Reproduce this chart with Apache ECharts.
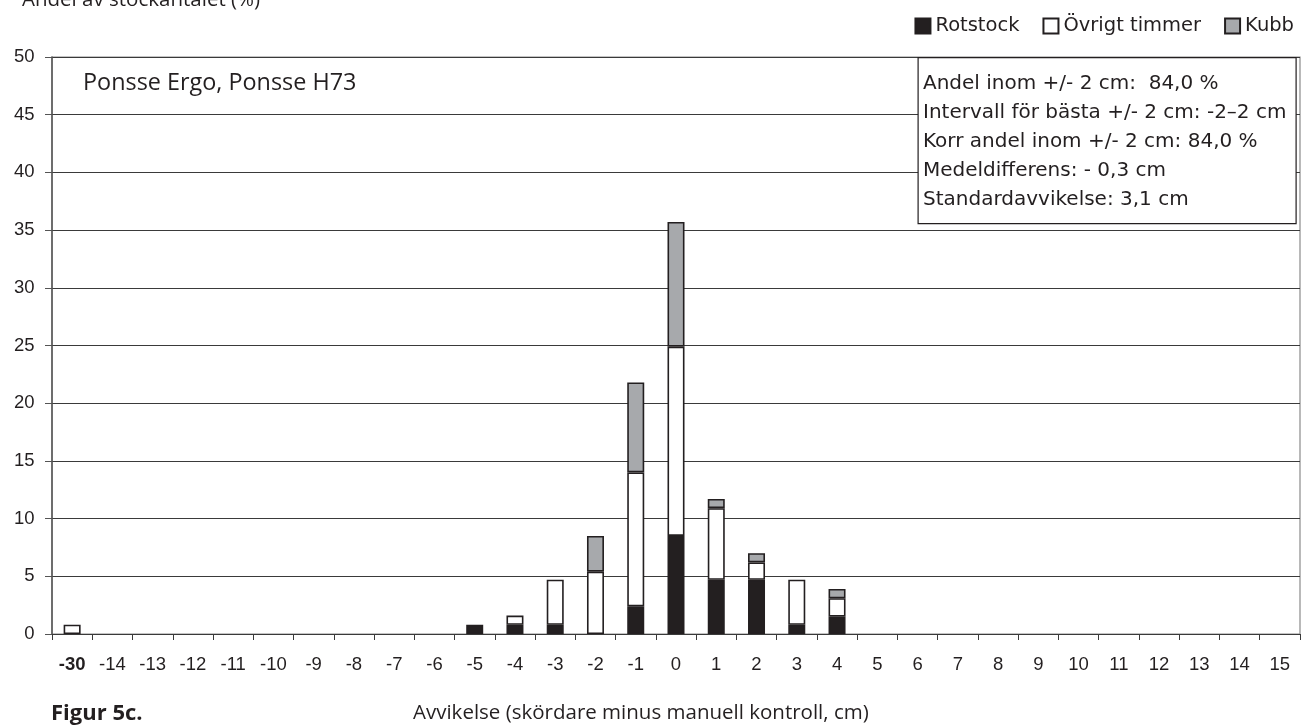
<!DOCTYPE html>
<html>
<head>
<meta charset="utf-8">
<script src="https://cdn.jsdelivr.net/npm/echarts@6/dist/echarts.min.js"></script>
<style>
html,body{margin:0;padding:0;background:#fff;}
#c{width:1301px;height:727px;}
</style>
</head>
<body>
<div id="c"></div>
<script>
var categories = ['-30','-14','-13','-12','-11','-10','-9','-8','-7','-6','-5','-4','-3','-2','-1','0','1','2','3','4','5','6','7','8','9','10','11','12','13','14','15'];
// values per category (%), stacked
var rotstock = [0,0,0,0,0,0,0,0,0,0,0.8,0.8,0.8,0,2.4,8.5,4.7,4.7,0.8,1.5,0,0,0,0,0,0,0,0,0,0,0];
var ovrigt   = [0.8,0,0,0,0,0,0,0,0,0,0,0.8,3.9,5.4,11.6,16.4,6.2,1.5,3.9,1.6,0,0,0,0,0,0,0,0,0,0,0];
var kubb     = [0,0,0,0,0,0,0,0,0,0,0,0,0,3.1,7.8,10.8,0.8,0.8,0,0.8,0,0,0,0,0,0,0,0,0,0,0];
var yTicks = {min:0, max:50, interval:5};
var infoLines = [
  'Andel inom +/- 2 cm:  84,0 %',
  'Intervall för bästa +/- 2 cm: -2–2 cm',
  'Korr andel inom +/- 2 cm: 84,0 %',
  'Medeldifferens: - 0,3 cm',
  'Standardavvikelse: 3,1 cm'
];

var chart = echarts.init(document.getElementById('c'), null, {renderer:'canvas'});
function toData(arr){ return arr.map(function(v){ return v === 0 ? '-' : v; }); }
var catData = categories.map(function(c, i){
  return i === 0 ? {value:c, textStyle:{fontWeight:'bold'}} : c;
});
var barStyle = function(color){
  return {color:color, borderColor:'#231f20', borderWidth:1.6};
};
var option = {
  animation:false,
  backgroundColor:'#fff',
  grid:{left:52, right:1, top:57, bottom:93, show:true, borderColor:'#8a8a8a', borderWidth:1.2, backgroundColor:'transparent'},
  legend:{
    right:2, top:11, itemWidth:15, itemHeight:15, itemGap:23,
    icon:'rect',
    textStyle:{fontFamily:'DejaVu Sans', fontSize:19.5, color:'#231f20'},
    data:['Rotstock','Övrigt timmer','Kubb']
  },
  xAxis:{
    type:'category', data:catData,
    axisLine:{lineStyle:{color:'#3a3a3a', width:1.2}},
    axisTick:{show:true, length:6, alignWithLabel:false, lineStyle:{color:'#3a3a3a'}},
    axisLabel:{fontFamily:'Liberation Sans', fontSize:18.5, color:'#231f20', margin:21, interval:0}
  },
  yAxis:{
    type:'value', min:yTicks.min, max:yTicks.max, interval:yTicks.interval,
    axisLine:{show:true, lineStyle:{color:'#555', width:1.5}},
    axisTick:{show:true, length:7, lineStyle:{color:'#555'}},
    axisLabel:{fontFamily:'Liberation Sans', fontSize:18.5, color:'#231f20', margin:17.5},
    splitLine:{lineStyle:{color:'#3a3a3a', width:1}}
  },
  series:[
    {name:'Rotstock', type:'bar', stack:'s', data:toData(rotstock), barWidth:17, itemStyle:barStyle('#231f20')},
    {name:'Övrigt timmer', type:'bar', stack:'s', data:toData(ovrigt), barWidth:17, itemStyle:barStyle('#ffffff')},
    {name:'Kubb', type:'bar', stack:'s', data:toData(kubb), barWidth:17, itemStyle:barStyle('#a7a9ac')}
  ],
  graphic:[
    {type:'text', left:22, top:-10.5, style:{text:'Andel av stockantalet (%)', font:'20.5px "Open Sans"', fill:'#231f20'}},
    {type:'text', left:83, top:72, z:100, style:{text:'Ponsse Ergo, Ponsse H73', font:'23.4px "Open Sans"', fill:'#231f20'}},
    {type:'rect', left:917.5, top:57, z:100, shape:{x:0, y:0, width:378, height:166}, style:{fill:'#fff', stroke:'#231f20', lineWidth:1.2}},
    {type:'text', left:923, top:69, z:101, style:{text:infoLines.join('\n'), font:'20px "DejaVu Sans"', lineHeight:29, fill:'#231f20'}},
    {type:'text', left:51, top:702.5, style:{text:'Figur 5c.', font:'bold 22px "Open Sans"', fill:'#231f20'}},
    {type:'text', left:413, top:703, style:{text:'Avvikelse (skördare minus manuell kontroll, cm)', font:'20.5px "Open Sans"', fill:'#231f20'}}
  ]
};
chart.setOption(option);
</script>
</body>
</html>
